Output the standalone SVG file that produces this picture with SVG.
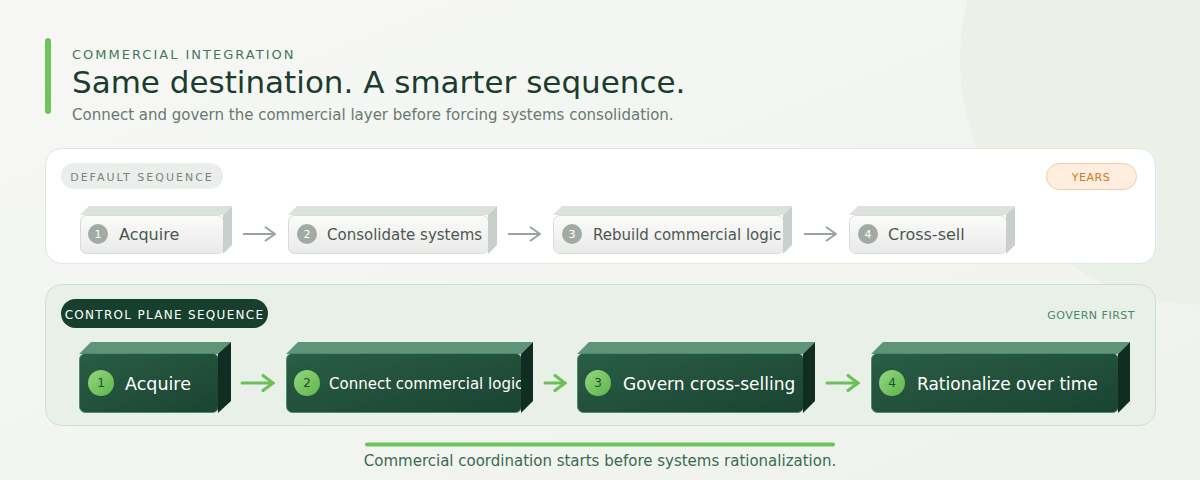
<svg xmlns="http://www.w3.org/2000/svg" width="1200" height="480" viewBox="0 0 1200 480">
<defs>
<linearGradient id="bg" x1="0" y1="0" x2="1" y2="1"><stop offset="0" stop-color="#f7f8f6"/><stop offset="1" stop-color="#eef2ec"/></linearGradient>
<linearGradient id="gface" x1="0" y1="0" x2="0" y2="1"><stop offset="0" stop-color="#fbfbfa"/><stop offset="1" stop-color="#e9ebe9"/></linearGradient>
<linearGradient id="dface" x1="0" y1="0" x2="1" y2="1"><stop offset="0" stop-color="#2a5e45"/><stop offset="1" stop-color="#1a4332"/></linearGradient>
<linearGradient id="dot" x1="0" y1="0" x2="1" y2="1"><stop offset="0" stop-color="#94d77f"/><stop offset="1" stop-color="#5db54b"/></linearGradient>
<marker id="ag" viewBox="0 0 12 16" refX="11" refY="8" markerWidth="12" markerHeight="16" markerUnits="userSpaceOnUse" orient="auto"><path d="M1 1 L11 8 L1 15" fill="none" stroke="#9aa39e" stroke-width="2"/></marker>
<marker id="ak" viewBox="0 0 14 18" refX="12" refY="9" markerWidth="14" markerHeight="18" markerUnits="userSpaceOnUse" orient="auto"><path d="M2 1.5 L12 9 L2 16.5" fill="none" stroke="#6cc05a" stroke-width="3" stroke-linecap="round"/></marker>
</defs>
<style>
text{font-family:"DejaVu Sans","Liberation Sans",sans-serif}
.gf{fill:url(#gface);stroke:#d8dcd8;stroke-width:1}
.gt{fill:#dde1de}
.gs{fill:#c9cfcb}
.gn{fill:#a3aaa5}
.gnt{fill:#ffffff;font-size:11px;text-anchor:middle}
.gl{fill:#4d5752}
.df{fill:url(#dface);stroke:#4f8a6a;stroke-width:1}
.dt{fill:#5e9478}
.ds{fill:#0f2e21}
.dn{fill:url(#dot)}
.dnt{fill:#1f4a33;font-size:12px;text-anchor:middle}
.dl{fill:#ffffff}
.ga{stroke:#9aa39e;stroke-width:2;fill:none}
.ka{stroke:#6cc05a;stroke-width:3;fill:none;stroke-linecap:round}
</style>
<rect width="1200" height="480" fill="url(#bg)"/>
<circle cx="1205" cy="60" r="245" fill="#ebf1e8"/>
<rect x="45" y="38" width="6" height="76" rx="3" fill="#6cc35a"/>
<text x="72" y="59" font-size="13" letter-spacing="2" fill="#3d7a58">COMMERCIAL INTEGRATION</text>
<text x="72" y="93" font-size="31" fill="#1a3d2e">Same destination. A smarter sequence.</text>
<text x="72" y="120" font-size="15" fill="#6b7872">Connect and govern the commercial layer before forcing systems consolidation.</text>

<rect x="45.5" y="148.5" width="1110" height="115" rx="16" fill="#ffffff" stroke="#e0e4e0"/>
<rect x="61" y="163" width="162" height="26" rx="13" fill="#eceeec"/>
<text x="142" y="181" font-size="11" letter-spacing="2" fill="#7a857f" text-anchor="middle">DEFAULT SEQUENCE</text>
<rect x="1046.5" y="163.5" width="90" height="26" rx="13" fill="#fdeee0" stroke="#f5cb9e"/>
<text x="1091" y="181" font-size="11" letter-spacing="0.5" fill="#d07a1a" text-anchor="middle">YEARS</text>

<rect x="45.5" y="284.5" width="1110" height="141" rx="16" fill="#e9f0e8" stroke="#cfe0d2"/>
<rect x="61" y="299" width="207" height="29" rx="14.5" fill="#173f2e"/>
<text x="164.5" y="319" font-size="12" letter-spacing="1.3" fill="#ffffff" text-anchor="middle">CONTROL PLANE SEQUENCE</text>
<text x="1135" y="319" font-size="11" letter-spacing="0.5" fill="#4a8a66" text-anchor="end">GOVERN FIRST</text>

<g id="connectors">
<line class="ga" x1="243" y1="234" x2="275" y2="234" marker-end="url(#ag)"/>
<line class="ga" x1="508" y1="234" x2="540" y2="234" marker-end="url(#ag)"/>
<line class="ga" x1="804" y1="234" x2="836" y2="234" marker-end="url(#ag)"/>
<line class="ka" x1="242" y1="383" x2="273" y2="383" marker-end="url(#ak)"/>
<line class="ka" x1="545" y1="383" x2="565" y2="383" marker-end="url(#ak)"/>
<line class="ka" x1="827" y1="383" x2="858" y2="383" marker-end="url(#ak)"/>
</g>

<g id="d1">
<path class="gt" d="M80 215 L89 206 L232 206 L223 215 Z"/>
<rect class="gf" x="80.5" y="215.5" width="143" height="38" rx="6"/>
<path class="gs" d="M223 215 L232 206 L232 245 L223 254 Z"/>
<circle class="gn" cx="98" cy="234" r="10"/><text class="gnt" x="98" y="238">1</text>
<text class="gl" x="119" y="240" font-size="16">Acquire</text>
</g>
<g id="d2">
<path class="gt" d="M288 215 L297 206 L497 206 L488 215 Z"/>
<rect class="gf" x="288.5" y="215.5" width="200" height="38" rx="6"/>
<path class="gs" d="M488 215 L497 206 L497 245 L488 254 Z"/>
<circle class="gn" cx="307" cy="234" r="10"/><text class="gnt" x="307" y="238">2</text>
<text class="gl" x="327" y="240" font-size="15">Consolidate systems</text>
</g>
<g id="d3">
<path class="gt" d="M553 215 L562 206 L792 206 L783 215 Z"/>
<rect class="gf" x="553.5" y="215.5" width="230" height="38" rx="6"/>
<path class="gs" d="M783 215 L792 206 L792 245 L783 254 Z"/>
<circle class="gn" cx="572" cy="234" r="10"/><text class="gnt" x="572" y="238">3</text>
<text class="gl" x="593" y="240" font-size="15">Rebuild commercial logic</text>
</g>
<g id="d4">
<path class="gt" d="M849 215 L858 206 L1015 206 L1006 215 Z"/>
<rect class="gf" x="849.5" y="215.5" width="157" height="38" rx="6"/>
<path class="gs" d="M1006 215 L1015 206 L1015 245 L1006 254 Z"/>
<circle class="gn" cx="868" cy="234" r="10"/><text class="gnt" x="868" y="238">4</text>
<text class="gl" x="888" y="240" font-size="16">Cross-sell</text>
</g>

<g id="c1">
<path class="dt" d="M79 354 L91 342 L231 342 L219 354 Z"/>
<rect class="df" x="79.5" y="353.5" width="139" height="59" rx="6"/>
<circle class="dn" cx="101" cy="383" r="13"/><text class="dnt" x="101" y="387">1</text>
<text class="dl" x="125" y="390" font-size="17.5">Acquire</text>
<path class="ds" d="M218 354 L231 342 L231 401 L218 413 Z"/>
</g>
<g id="c2">
<path class="dt" d="M286 354 L298 342 L533 342 L521 354 Z"/>
<rect class="df" x="286.5" y="353.5" width="235" height="59" rx="6"/>
<circle class="dn" cx="307" cy="383" r="13"/><text class="dnt" x="307" y="387">2</text>
<text class="dl" x="329" y="389" font-size="15">Connect commercial logic</text>
<path class="ds" d="M521 354 L533 342 L533 401 L521 413 Z"/>
</g>
<g id="c3">
<path class="dt" d="M577 354 L589 342 L815 342 L803 354 Z"/>
<rect class="df" x="577.5" y="353.5" width="226" height="59" rx="6"/>
<circle class="dn" cx="598" cy="383" r="13"/><text class="dnt" x="598" y="387">3</text>
<text class="dl" x="623" y="390" font-size="17">Govern cross-selling</text>
<path class="ds" d="M803 354 L815 342 L815 401 L803 413 Z"/>
</g>
<g id="c4">
<path class="dt" d="M871 354 L883 342 L1130 342 L1118 354 Z"/>
<rect class="df" x="871.5" y="353.5" width="247" height="59" rx="6"/>
<circle class="dn" cx="892" cy="383" r="13"/><text class="dnt" x="892" y="387">4</text>
<text class="dl" x="917" y="390" font-size="17">Rationalize over time</text>
<path class="ds" d="M1118 354 L1130 342 L1130 401 L1118 413 Z"/>
</g>

<line x1="367" y1="444.5" x2="833" y2="444.5" stroke="#6cc35a" stroke-width="4" stroke-linecap="round"/>
<text x="600" y="466" font-size="15" fill="#3a6b52" text-anchor="middle">Commercial coordination starts before systems rationalization.</text>
</svg>
